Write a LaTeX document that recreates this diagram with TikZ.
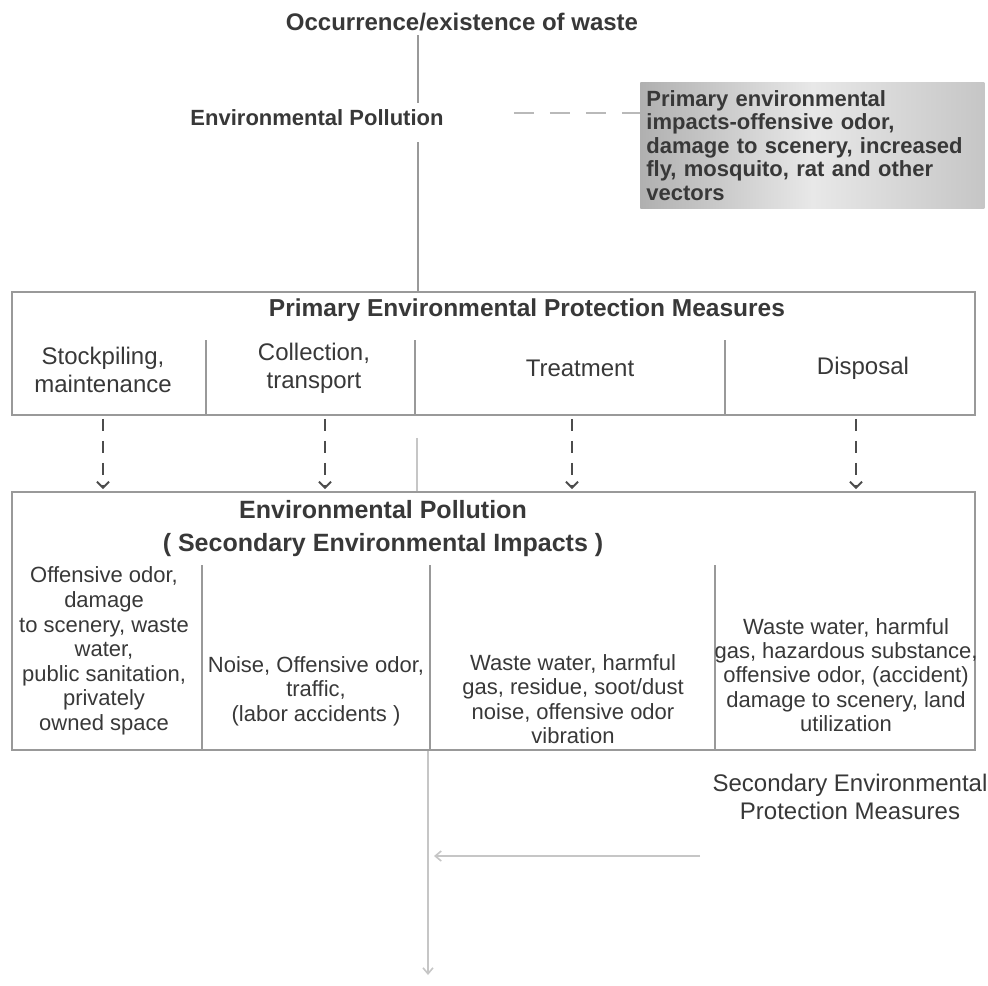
\documentclass[tikz,border=0pt]{standalone}
\usepackage{fontspec}
\setmainfont{Liberation Sans}
\usetikzlibrary{arrows.meta}

\definecolor{ink}{gray}{0.22}
\definecolor{rule}{gray}{0.6}
\definecolor{tick}{gray}{0.3}

\begin{document}
\begin{tikzpicture}[x=0.5pt, y=-0.5pt,
    every node/.style={text=ink, inner sep=0pt},
    box/.style={draw=rule, line width=0.9pt, minimum width=481.5pt},
    head/.style={font=\bfseries\fontsize{12}{14}\selectfont, align=center},
    tag/.style={font=\fontsize{12}{14}\selectfont, align=center},
    cell/.style={font=\fontsize{11}{12.2}\selectfont, align=center},
    wire/.style={draw=rule, line width=0.9pt},
    faint/.style={draw=gray!45, line width=0.8pt},
    drop/.style={draw=tick, line width=1pt, dash pattern=on 6pt off 5pt,
        shorten <=1.5pt, shorten >=1pt, -{Straight Barb[length=3pt, width=6pt]}},
    impact/.style={left color=gray!62, right color=gray!45, middle color=gray!18,
        align=left, text width=166pt, inner xsep=3pt, inner ysep=4pt,
        font=\bfseries\fontsize{11}{11.75}\selectfont}]
    \useasboundingbox (0,0) rectangle (988,985);
    % waste and its first impacts
    \node[head] (waste) at (462,22) {Occurrence/existence of waste};
    \node[head, font=\bfseries\fontsize{11}{13}\selectfont] (pollution) at (317,118) {Environmental Pollution};
    \node[impact, anchor=north west] (impact) at (640,82) {Primary environmental\\
      impacts-offensive odor,\\ damage to scenery, increased\\ fly, mosquito, rat and other\\ vectors};
    \coordinate (gapstart) at ([xshift=35pt, yshift=2.5pt]pollution.east);
    \draw[gray!55, line width=1pt, dash pattern=on 10pt off 8pt] (gapstart) -- (gapstart -| impact.west);

    % primary measures
    \node[box, minimum height=61.5pt] (primary) at (493.5,353.5) {};
    \node[head, font=\bfseries\fontsize{12.25}{14}\selectfont] (primarytitle) at (527,310) {Primary Environmental Protection Measures};
    \foreach \x in {206,415,725}
      \draw[wire] (\x,340) -- (\x,0 |- primary.south);
    \node[tag] (stock) at (103,370) {Stockpiling,\\ maintenance};
    \node[tag] (collect) at (314,368) {Collection,\\ transport};
    \node[tag] (treat) at (580,368) {Treatment};
    \node[tag] (dispose) at (863,368) {Disposal};
    \draw[wire, shorten <=2pt, shorten >=3.5pt] (418,0 |- waste.south) -- (418,0 |- pollution.north);
    \draw[wire, shorten <=8pt] (418,0 |- pollution.south) -- (418,0 |- primary.north);

    % secondary impacts
    \node[box, minimum height=129pt] (secondary) at (493.5,621) {};
    \node[head, font=\bfseries\fontsize{12.5}{16.5}\selectfont] (secondarytitle) at (383,529) {Environmental Pollution\\ ( Secondary Environmental Impacts )};
    \foreach \x in {202,430,715}
      \draw[wire] (\x,565) -- (\x,0 |- secondary.south);
    \node[cell, font=\fontsize{11}{12.3}\selectfont] (odor) at (104,651) {Offensive odor,\\ damage\\ to scenery, waste\\ water,\\ public sanitation,\\ privately\\ owned space};
    \node[cell] (noise) at (316,691) {Noise, Offensive odor,\\ traffic,\\ (labor accidents )};
    \node[cell] (residue) at (573,699) {Waste water, harmful\\ gas, residue, soot/dust\\ noise, offensive odor\\ vibration};
    \node[cell] (hazard) at (846,675) {Waste water, harmful\\ gas, hazardous substance,\\ offensive odor, (accident)\\ damage to scenery, land\\ utilization};

    \foreach \x in {103,325,572,856}
      \draw[drop] (\x,0 |- primary.south) -- (\x,0 |- secondary.north);
    \draw[faint, shorten <=11pt] (417,0 |- primary.south) -- (417,0 |- secondary.north);

    % secondary measures
    \node[tag] (remedy) at (850,797) {Secondary Environmental\\ Protection Measures};
    \coordinate (outlet) at (428,975);
    \coordinate (feed) at (700,856);
    \draw[faint, -{Straight Barb[length=3pt, width=5pt]}] (428,0 |- secondary.south) -- (outlet);
    \draw[faint, shorten >=3pt, -{Straight Barb[length=3pt, width=5pt]}] (feed) -- (feed -| outlet);
\end{tikzpicture}
\end{document}
